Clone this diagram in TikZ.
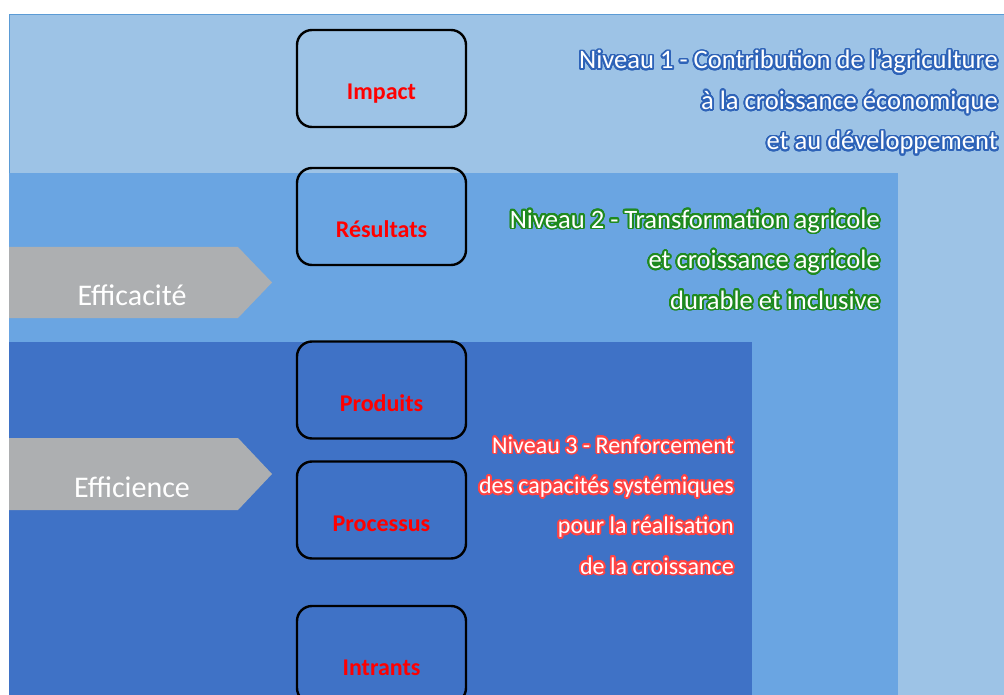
\documentclass[tikz,border=0pt]{standalone}
\usepackage{fontspec}
\setmainfont{Carlito}
\usepackage[copies]{contour}
\usetikzlibrary{positioning}
\contourlength{1.8pt}
\contournumber{32}
\definecolor{levelone}{HTML}{9DC3E6}
\definecolor{leveltwo}{HTML}{6AA5E2}
\definecolor{levelthree}{HTML}{3F72C6}
\definecolor{outerline}{HTML}{5B9BD5}
\definecolor{arrowgray}{HTML}{ADAFB1}
\definecolor{glowone}{HTML}{2E63B8}
\definecolor{glowtwo}{HTML}{1F8A1F}
\definecolor{glowthree}{HTML}{FF4545}
\newcommand{\glowline}[2]{\contour{#1}{#2}}

\begin{document}
\begin{tikzpicture}[x=1pt,y=-1pt,
    stage/.style={
% The shape:
rectangle, rounded corners=15pt,
% The size:
minimum width=169pt,
minimum height=97pt,
% The border:
line width=2.4pt, draw=black,
},
    stagename/.style={
% The text:
anchor=base, text=red, font=\bfseries\fontsize{24}{26}\selectfont,
},
    levelnote/.style={
% The text (base = last line):
anchor=base east, align=right, inner sep=0pt,
text=white, font=\fontsize{26.6}{40.5}\selectfont,
},
    sidename/.style={
% The text:
anchor=base, text=white, font=\fontsize{30}{34}\selectfont,
},
]
  \useasboundingbox (0,0) rectangle (1004,695);
  \clip (0,0) rectangle (1004,695);
  % levels
  \fill[levelone] (9,14) rectangle (1004,695);
  \draw[outerline, thin] (9,695) -- (9,14) -- (1004,14);
  \fill[leveltwo] (9,173) rectangle (898,695);
  \fill[levelthree] (9,342) rectangle (752,695);

  % side arrows
  \fill[arrowgray] (9,247) -- (238,247) -- (272,282.5) -- (238,318) -- (9,318) -- cycle;
  \fill[arrowgray] (9,438) -- (238,438) -- (272,474) -- (238,510) -- (9,510) -- cycle;
  \node[sidename] (efficacite) at (132,305) {Efficacité};
  \node[sidename] (efficience) at (132,497) {Efficience};

  % chain of results
  \node[stage] (impact)    at (381.5,78.5)  {};
  \node[stage] (resultats) at (381.5,216.5) {};
  \node[stage] (produits)  at (381.5,390)   {};
  \node[stage] (processus) at (381.5,510)   {};
  \node[stage] (intrants)  at (381.5,654.5) {};
  \node[stagename] (impact-t)    at (381.5,99.5)  {Impact};
  \node[stagename] (resultats-t) at (381.5,237.5) {Résultats};
  \node[stagename] (produits-t)  at (381.5,411)   {Produits};
  \node[stagename] (processus-t) at (381.5,531)   {Processus};
  \node[stagename] (intrants-t)  at (381.5,675.5) {Intrants};

  % level notes
  \node[levelnote] (niveau1) at (998,150) {%
    \glowline{glowone}{Niveau 1 - Contribution de l'agriculture}\\
    \glowline{glowone}{à la croissance économique}\\
    \glowline{glowone}{et au développement}};
  \node[levelnote] (niveau2) at (880,309) {%
    \glowline{glowtwo}{Niveau 2 - Transformation agricole}\\
    \glowline{glowtwo}{et croissance agricole}\\
    \glowline{glowtwo}{durable et inclusive}};
  \node[levelnote, font=\fontsize{24}{40.3}\selectfont] (niveau3) at (734,574) {%
    \contourlength{1.5pt}%
    \glowline{glowthree}{Niveau 3 - Renforcement}\\
    \glowline{glowthree}{des capacités systémiques}\\
    \glowline{glowthree}{pour la réalisation}\\
    \glowline{glowthree}{de la croissance}};

\end{tikzpicture}
\end{document}
